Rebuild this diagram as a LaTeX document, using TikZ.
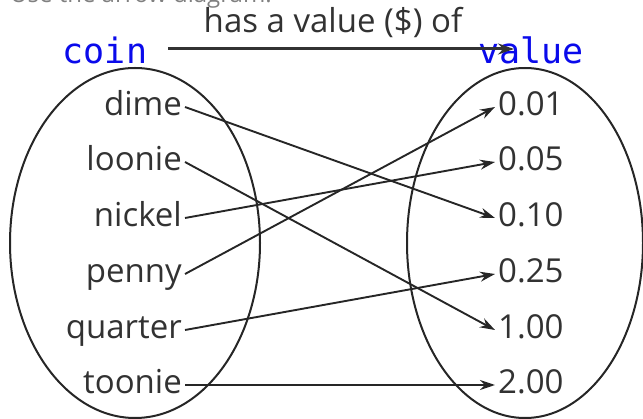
\documentclass[tikz,border=0pt]{standalone}
\usepackage{fontspec}
\setmainfont{Open Sans}
\newfontfamily\handfont{DejaVu Sans Mono}
\usetikzlibrary{
    arrows.meta,
    positioning,
    shapes.geometric
}
\definecolor{txtGray}{RGB}{50,50,50}
\definecolor{inkBlue}{RGB}{10,10,235}
\tikzset{
  set/.style    = {draw=black!85, ellipse, line width=2pt, inner sep=0pt},
  coin/.style   = {anchor=east, inner sep=3pt, text height=17pt, text depth=0pt,
                   text=txtGray, font=\fontsize{33}{33}\selectfont},
  val/.style    = {anchor=west, inner sep=3pt, text height=17pt, text depth=0pt,
                   text=txtGray, font=\fontsize{33}{33}\selectfont},
  hand/.style   = {text=inkBlue, font=\handfont\fontsize{35}{35}\selectfont},
  arr/.style    = {-{Stealth[length=15pt, width=10pt]}, line width=1.9pt, black!85},
  rel/.style    = {-{Stealth[length=16pt, width=11pt]}, line width=3pt, txtGray}
}

\begin{document}
\begin{tikzpicture}[x=1pt, y=-1pt]
    \useasboundingbox (0,0) rectangle (643,419);
    % cut-off line above the diagram
    \node[anchor=base west, inner sep=0pt, text=gray, font=\fontsize{24}{24}\selectfont]
        (intro) at (10,3) {Use the arrow diagram.};
    % the two sets
    \node[set, minimum width=250pt, minimum height=350pt] (coins) at (135,243) {};
    \node[set, minimum width=236pt, minimum height=350pt] (values) at (525,243) {};
    \node[hand, anchor=base] (coinlbl) at (105,64) {coin};
    \node[hand, anchor=base] (valuelbl) at (531,64) {value};
    % relation
    \coordinate (relL) at (168,49);
    \coordinate (relR) at (514,49);
    \draw[rel] (relL) -- (relR);
    \node[text=txtGray, font=\fontsize{33}{33}\selectfont, anchor=base]
        (rellbl) at (333,33) {has a value (\$) of};
    % coins
    \node[coin] (dime)    at (185,107) {dime};
    \node[coin] (loonie)  at (185,162) {loonie};
    \node[coin] (nickel)  at (185,218) {nickel};
    \node[coin] (penny)   at (185,274) {penny};
    \node[coin] (quarter) at (185,330) {quarter};
    \node[coin] (toonie)  at (185,385) {toonie};
    % values
    \node[val] (v01)  at (495,107) {0.01};
    \node[val] (v05)  at (495,162) {0.05};
    \node[val] (v10)  at (495,218) {0.10};
    \node[val] (v25)  at (495,274) {0.25};
    \node[val] (v100) at (495,330) {1.00};
    \node[val] (v200) at (495,385) {2.00};
    % mapping
    \draw[arr] (dime.east)    -- (v10.west);
    \draw[arr] (loonie.east)  -- (v100.west);
    \draw[arr] (nickel.east)  -- (v05.west);
    \draw[arr] (penny.east)   -- (v01.west);
    \draw[arr] (quarter.east) -- (v25.west);
    \draw[arr] (toonie.east)  -- (v200.west);
\end{tikzpicture}
\end{document}
